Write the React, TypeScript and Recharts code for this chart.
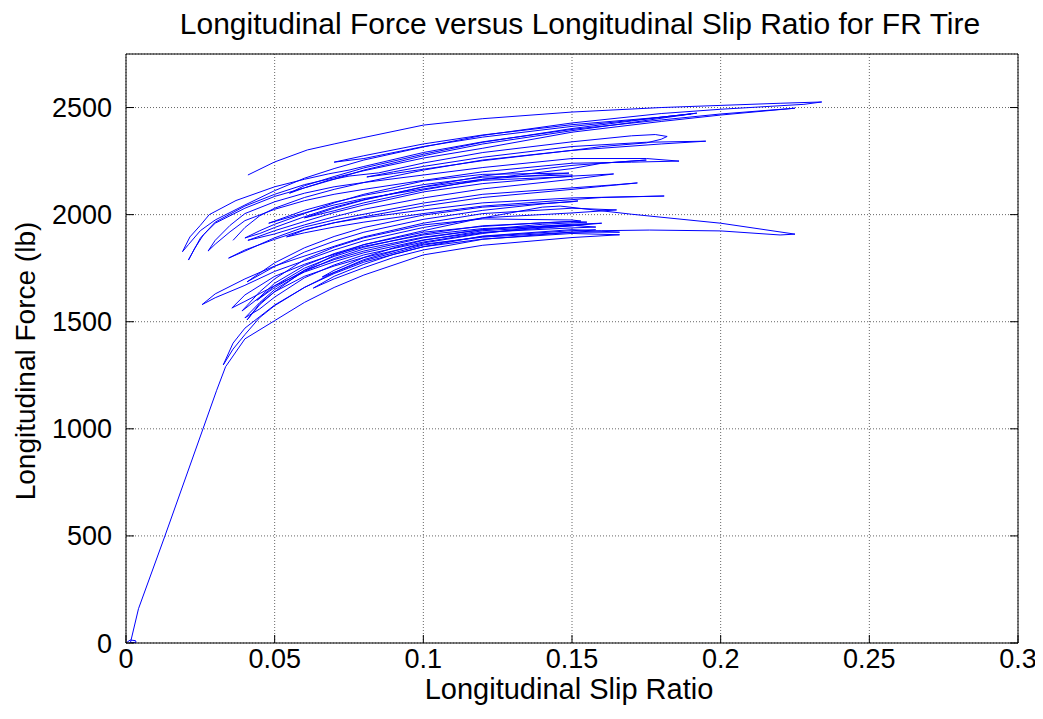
import React from 'react';
import { LineChart, Line, XAxis, YAxis, CartesianGrid } from 'recharts';

type Pt = [number, number];

const xTicks = [0, 0.05, 0.1, 0.15, 0.2, 0.25, 0.3];
const yTicks = [0, 500, 1000, 1500, 2000, 2500];

// start-up ramp from the origin, then the lowest loops
const riseTrace: Pt[] = [
  [0, 0], [0.0014, 14], [0.0032, 11], [0.0034, 3], [0.0015, 2], [0.0042, 160], [0.0131, 500],
  [0.0259, 1000], [0.0305, 1180], [0.0335, 1290], [0.036, 1340], [0.04, 1420], [0.05, 1505],
  [0.06, 1590], [0.07, 1660], [0.08, 1718], [0.1, 1812], [0.12, 1857], [0.15, 1893], [0.166, 1906],
  [0.15, 1912], [0.12, 1886], [0.1, 1850], [0.08, 1778], [0.07, 1725], [0.06, 1660], [0.05, 1578],
  [0.04, 1470], [0.036, 1400], [0.0327, 1298], [0.036, 1372], [0.04, 1440], [0.045, 1520],
  [0.05, 1575], [0.06, 1660], [0.07, 1730], [0.08, 1785], [0.1, 1858], [0.12, 1898], [0.15, 1925],
  [0.158, 1930],
];

const lowerLoops: Pt[][] = [
  [[0.0356, 1564], [0.04, 1625], [0.05, 1712], [0.06, 1768], [0.07, 1815], [0.08, 1852], [0.1, 1905], [0.12, 1935], [0.15, 1950], [0.158, 1942], [0.15, 1938], [0.12, 1918], [0.1, 1882], [0.08, 1822], [0.07, 1780], [0.06, 1732], [0.05, 1668], [0.04, 1595], [0.0356, 1564]],
  [[0.0256, 1580], [0.03, 1630], [0.04, 1700], [0.05, 1760], [0.0575, 1795], [0.07, 1852], [0.08, 1896], [0.1, 1960], [0.12, 2005], [0.15, 2030], [0.165, 2022], [0.15, 2008], [0.12, 1985], [0.1, 1940], [0.08, 1878], [0.07, 1835], [0.06, 1785], [0.05, 1735], [0.04, 1670], [0.03, 1612], [0.0256, 1580]],
  [[0.039, 1550], [0.045, 1640], [0.05, 1700], [0.06, 1790], [0.07, 1848], [0.08, 1892], [0.1, 1952], [0.12, 1980], [0.15, 1975], [0.153, 1970], [0.14, 1962], [0.12, 1945], [0.1, 1918], [0.08, 1860], [0.07, 1818], [0.06, 1762], [0.05, 1680], [0.045, 1615], [0.039, 1550]],
  [[0.0407, 1686], [0.05, 1775], [0.06, 1845], [0.07, 1898], [0.08, 1940], [0.1, 1998], [0.12, 2035], [0.15, 2060], [0.152, 2064], [0.14, 2050], [0.12, 2020], [0.1, 1978], [0.08, 1918], [0.07, 1876], [0.06, 1825], [0.05, 1758], [0.0407, 1686]],
  [[0.063, 1657], [0.07, 1712], [0.08, 1768], [0.09, 1815], [0.1, 1850], [0.12, 1900], [0.15, 1930], [0.166, 1918], [0.15, 1918], [0.12, 1885], [0.1, 1835], [0.09, 1800], [0.08, 1752], [0.07, 1700], [0.063, 1657]],
  [[0.066, 1709], [0.07, 1740], [0.08, 1800], [0.09, 1845], [0.1, 1880], [0.12, 1925], [0.15, 1948], [0.155, 1955], [0.14, 1945], [0.12, 1912], [0.1, 1868], [0.08, 1790], [0.07, 1730], [0.066, 1709]],
  [[0.04, 1518], [0.045, 1590], [0.05, 1650], [0.06, 1735], [0.07, 1795], [0.08, 1840], [0.1, 1895], [0.12, 1930], [0.15, 1955], [0.16, 1960], [0.15, 1948], [0.12, 1915], [0.1, 1872], [0.08, 1812], [0.07, 1765], [0.06, 1705], [0.05, 1615], [0.045, 1560], [0.04, 1518]],
  [[0.0407, 1508], [0.045, 1580], [0.05, 1640], [0.06, 1740], [0.07, 1810], [0.08, 1860], [0.1, 1925], [0.12, 1985], [0.14, 2035], [0.146, 2040], [0.17, 2002], [0.2, 1960], [0.225, 1909], [0.22, 1905], [0.2, 1924], [0.176, 1928], [0.16, 1925], [0.15, 1918], [0.12, 1895], [0.1, 1862], [0.08, 1800], [0.07, 1760], [0.06, 1712], [0.05, 1640], [0.045, 1585], [0.0407, 1508]],
  [[0.044, 1600], [0.05, 1668], [0.06, 1750], [0.07, 1805], [0.08, 1848], [0.1, 1910], [0.12, 1948], [0.15, 1968], [0.155, 1965], [0.14, 1955], [0.12, 1930], [0.1, 1892], [0.08, 1830], [0.07, 1790], [0.06, 1740], [0.05, 1660], [0.044, 1600]],
];

const middleLoops: Pt[][] = [
  [[0.054, 1896], [0.06, 1928], [0.07, 1962], [0.08, 1985], [0.1, 2022], [0.12, 2055], [0.15, 2078], [0.181, 2087], [0.16, 2080], [0.15, 2070], [0.12, 2040], [0.1, 2005], [0.08, 1965], [0.07, 1942], [0.06, 1915], [0.054, 1896]],
  [[0.0345, 1797], [0.04, 1830], [0.05, 1892], [0.06, 1942], [0.07, 1975], [0.08, 2002], [0.1, 2054], [0.12, 2095], [0.15, 2125], [0.165, 2140], [0.172, 2148], [0.16, 2132], [0.15, 2118], [0.12, 2080], [0.1, 2040], [0.08, 1990], [0.07, 1962], [0.06, 1930], [0.05, 1885], [0.04, 1835], [0.0345, 1797]],
  [[0.041, 1880], [0.05, 1925], [0.06, 1968], [0.07, 2010], [0.08, 2045], [0.1, 2106], [0.12, 2145], [0.15, 2180], [0.164, 2190], [0.15, 2165], [0.12, 2120], [0.1, 2078], [0.08, 2025], [0.07, 1990], [0.06, 1952], [0.05, 1910], [0.041, 1880]],
  [[0.04, 1891], [0.045, 1925], [0.05, 1955], [0.06, 2005], [0.07, 2055], [0.08, 2095], [0.1, 2157], [0.12, 2188], [0.149, 2194], [0.14, 2185], [0.12, 2165], [0.1, 2129], [0.08, 2070], [0.07, 2035], [0.06, 1990], [0.05, 1940], [0.045, 1912], [0.04, 1891]],
  [[0.0276, 1830], [0.03, 1880], [0.035, 1950], [0.04, 2005], [0.05, 2060], [0.06, 2100], [0.07, 2130], [0.08, 2150], [0.1, 2185], [0.12, 2220], [0.15, 2262], [0.175, 2262], [0.186, 2250], [0.17, 2245], [0.15, 2240], [0.12, 2200], [0.1, 2160], [0.08, 2118], [0.07, 2095], [0.06, 2065], [0.05, 2025], [0.04, 1972], [0.035, 1920], [0.03, 1862], [0.0276, 1830]],
  [[0.06, 1985], [0.07, 2030], [0.08, 2068], [0.1, 2130], [0.12, 2180], [0.15, 2230], [0.175, 2255], [0.16, 2240], [0.15, 2215], [0.12, 2165], [0.1, 2115], [0.08, 2055], [0.07, 2018], [0.06, 1985]],
  [[0.048, 1960], [0.06, 2020], [0.07, 2058], [0.08, 2090], [0.1, 2140], [0.12, 2175], [0.15, 2185], [0.15, 2178], [0.12, 2160], [0.1, 2120], [0.08, 2075], [0.07, 2045], [0.06, 2008], [0.048, 1960]],
];

const upperLoops: Pt[][] = [
  [
    [0.041, 2185], [0.05, 2246], [0.061, 2302], [0.07, 2330], [0.08, 2360], [0.1, 2418], [0.12, 2448], [0.15, 2479],
    [0.18, 2500], [0.2, 2510], [0.22, 2520], [0.234, 2526], [0.228, 2515], [0.2, 2492], [0.18, 2472], [0.15, 2428],
    [0.12, 2370], [0.1, 2316], [0.08, 2255], [0.07, 2215], [0.06, 2170], [0.05, 2112], [0.04, 2045], [0.03, 1975],
    [0.025, 1925], [0.021, 1860], [0.019, 1827], [0.0215, 1896], [0.025, 1950], [0.028, 2000], [0.037, 2066],
    [0.05, 2130], [0.06, 2165], [0.068, 2190], [0.075, 2208], [0.08, 2225], [0.1, 2290], [0.12, 2340], [0.15, 2398],
    [0.18, 2442], [0.2, 2470], [0.225, 2497], [0.2, 2465], [0.18, 2435], [0.15, 2385], [0.12, 2310], [0.1, 2264],
    [0.08, 2205], [0.07, 2172], [0.06, 2140], [0.05, 2095], [0.04, 2040], [0.03, 1965], [0.025, 1890], [0.021, 1788],
    [0.023, 1840], [0.026, 1905], [0.03, 1960], [0.04, 2030], [0.05, 2085], [0.06, 2125], [0.068, 2160], [0.075, 2180],
    [0.085, 2195], [0.1, 2241], [0.12, 2290], [0.15, 2340], [0.17, 2368], [0.178, 2374], [0.182, 2365], [0.18, 2352],
    [0.175, 2335], [0.16, 2318], [0.15, 2300], [0.12, 2255], [0.1, 2208], [0.08, 2150], [0.07, 2118], [0.06, 2080],
    [0.05, 2030], [0.045, 1995], [0.04, 1940], [0.036, 1880],
  ],
  [[0.055, 2100], [0.06, 2125], [0.07, 2165], [0.08, 2208], [0.1, 2275], [0.12, 2330], [0.15, 2392], [0.17, 2430], [0.192, 2474], [0.18, 2455], [0.15, 2402], [0.12, 2338], [0.1, 2282], [0.08, 2218], [0.07, 2178], [0.06, 2135], [0.055, 2100]],
  [[0.081, 2176], [0.09, 2200], [0.1, 2225], [0.12, 2268], [0.15, 2318], [0.175, 2338], [0.195, 2343], [0.18, 2330], [0.15, 2300], [0.12, 2252], [0.1, 2212], [0.09, 2192], [0.081, 2176]],
  [[0.07, 2245], [0.08, 2275], [0.1, 2330], [0.12, 2372], [0.15, 2420], [0.18, 2455], [0.19, 2470], [0.17, 2440], [0.15, 2412], [0.12, 2362], [0.1, 2318], [0.08, 2262], [0.07, 2245]],
];

const allTraces: Pt[][] = [riseTrace, ...lowerLoops, ...middleLoops, ...upperLoops];

const toRows = (pts: Pt[]) => pts.map(([slip, force]) => ({ slip, force }));

const FONT = '"Liberation Sans", Arial, Helvetica, sans-serif';
const tickStyle = { fill: '#000', fontSize: 27, fontFamily: FONT };
const blank = () => '';

export default function App() {
  return (
    <div style={{ position: 'relative', width: 1030, height: 700, fontFamily: FONT, color: '#000' }}>
      {/* Title */}
      <div style={{ position: 'absolute', left: 572, top: 1, transform: 'translateX(-50%)', whiteSpace: 'nowrap', fontSize: 30, lineHeight: '30px' }}>
        Longitudinal Force versus Longitudinal Slip Ratio for FR Tire
      </div>
      <LineChart width={1030} height={700} margin={{ top: 45, right: 19, bottom: 15, left: 18 }}>
        <CartesianGrid stroke="#666" strokeDasharray="1 2" />
        <XAxis
          dataKey="slip"
          type="number"
          domain={[0, 0.3]}
          ticks={xTicks}
          interval={0}
          allowDataOverflow
          height={50}
          tickSize={-8}
          tickMargin={14}
          axisLine={{ stroke: '#000' }}
          tickLine={{ stroke: '#000' }}
          tick={tickStyle}
        />
        <XAxis
          xAxisId="top"
          orientation="top"
          type="number"
          domain={[0, 0.3]}
          ticks={xTicks}
          interval={0}
          allowDataOverflow
          height={1}
          tickSize={-8}
          axisLine={{ stroke: '#000' }}
          tickLine={{ stroke: '#000' }}
          tickFormatter={blank}
        />
        <YAxis
          type="number"
          domain={[0, 2750]}
          ticks={yTicks}
          interval={0}
          allowDataOverflow
          width={100}
          tickSize={-8}
          tickMargin={22}
          axisLine={{ stroke: '#000' }}
          tickLine={{ stroke: '#000' }}
          tick={tickStyle}
        />
        <YAxis
          yAxisId="right"
          orientation="right"
          type="number"
          domain={[0, 2750]}
          ticks={yTicks}
          interval={0}
          allowDataOverflow
          width={1}
          tickSize={-8}
          axisLine={{ stroke: '#000' }}
          tickLine={{ stroke: '#000' }}
          tickFormatter={blank}
        />
        {/* each trace is one stretch of the measured slip/force record */}
        {allTraces.map((trace, i) => (
          <Line
            key={i}
            data={toRows(trace)}
            dataKey="force"
            type="linear"
            stroke="#0000ff"
            strokeWidth={1}
            dot={false}
            activeDot={false}
            isAnimationActive={false}
          />
        ))}
      </LineChart>
      {/* Axis labels */}
      <div style={{ position: 'absolute', left: 561, top: 667, transform: 'translateX(-50%)', whiteSpace: 'nowrap', fontSize: 29, lineHeight: '29px' }}>
        Longitudinal Slip Ratio
      </div>
      <div style={{ position: 'absolute', left: 18, top: 353, transform: 'translate(-50%, -50%) rotate(-90deg)', whiteSpace: 'nowrap', fontSize: 28, lineHeight: '28px' }}>
        Longitudinal Force (lb)
      </div>
    </div>
  );
}
